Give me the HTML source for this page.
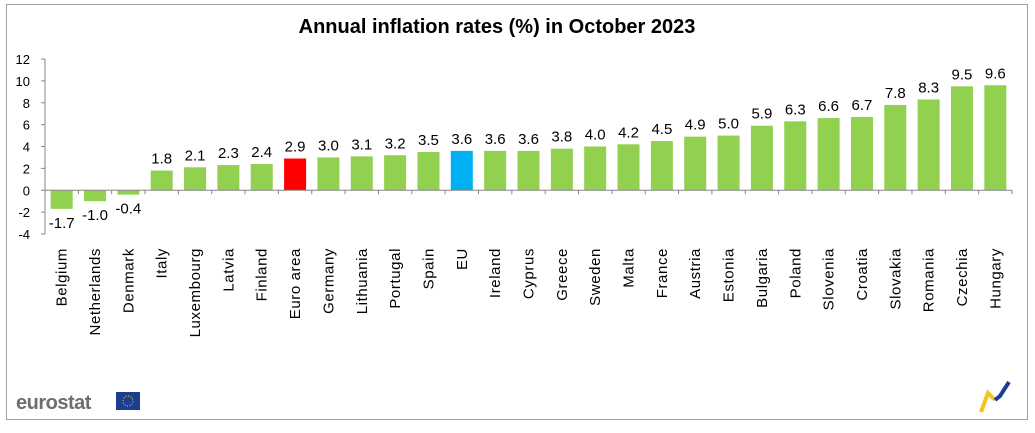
<!DOCTYPE html>
<html><head><meta charset="utf-8"><style>
body{margin:0;background:#fff;width:1035px;height:428px;overflow:hidden;font-family:"Liberation Sans",sans-serif}
</style></head><body>
<svg id="chart" width="1035" height="428">
<rect x="6.5" y="4.5" width="1021" height="415" fill="#fff" stroke="#a0a0a0"/>
<text x="497" y="33" text-anchor="middle" font-size="20" font-weight="bold" fill="#000">Annual inflation rates (%) in October 2023</text>
<g id="plot"></g>
<g>
<text x="16" y="409" font-size="20" fill="#6d6e71" font-weight="bold" letter-spacing="-0.5">eurostat</text>
<rect x="116" y="392" width="24" height="18" fill="#1c3f94"/>
<circle cx="128" cy="401" r="5" fill="none" stroke="#ffd400" stroke-width="1" stroke-dasharray="1 1.6"/>
</g>
<g>
<path d="M981 412 L988 393 L995 400" stroke="#f5c518" stroke-width="4" fill="none"/>
<path d="M995 400 L1000 396 L1009 382" stroke="#1c3f94" stroke-width="4" fill="none"/>
</g>
</svg>
<script>
const categories=["Belgium","Netherlands","Denmark","Italy","Luxembourg","Latvia","Finland","Euro area","Germany","Lithuania","Portugal","Spain","EU","Ireland","Cyprus","Greece","Sweden","Malta","France","Austria","Estonia","Bulgaria","Poland","Slovenia","Croatia","Slovakia","Romania","Czechia","Hungary"];
const values=[-1.7,-1.0,-0.4,1.8,2.1,2.3,2.4,2.9,3.0,3.1,3.2,3.5,3.6,3.6,3.6,3.8,4.0,4.2,4.5,4.9,5.0,5.9,6.3,6.6,6.7,7.8,8.3,9.5,9.6];
const yTicks=[12,10,8,6,4,2,0,-2,-4];
const NS="http://www.w3.org/2000/svg";
const g=document.getElementById('plot');
const x0=45,x1=1012,yTop=59,yBot=234,vMax=12,vMin=-4;
const y=v=>yTop+(vMax-v)*(yBot-yTop)/(vMax-vMin);
const step=(x1-x0)/categories.length;
const xc=i=>x0+step*(i+0.5);
function el(t,a){const e=document.createElementNS(NS,t);for(const k in a)e.setAttribute(k,a[k]);g.appendChild(e);return e;}
yTicks.forEach(t=>{
 const l=el('line',{x1:x0-4,x2:x0,y1:y(t),y2:y(t),stroke:'#868686'});
 
 
 const tx=el('text',{x:30,y:y(t)+5,'text-anchor':'end','font-size':13,fill:'#000'});
 tx.textContent=t;
 
 
});
const ax=el('line',{x1:x0,x2:x0,y1:yTop,y2:yBot,stroke:'#868686'});


categories.forEach((c,i)=>{
 const v=values[i];
 const col=c==="Euro area"?"#ff0000":c==="EU"?"#00b0f0":"#92d050";
 const bw=22;
 const r=el('rect',{x:xc(i)-bw/2,y:Math.min(y(v),y(0)),width:bw,height:Math.abs(y(v)-y(0)),fill:col});
 
 
 const lbl=el('text',{x:xc(i),y:v>=0?y(v)-7:y(v)+19,'text-anchor':'middle','font-size':15,fill:'#000'});
 lbl.textContent=v.toFixed(1);
 
 
 const cl=el('text',{transform:`translate(${xc(i)+5},248) rotate(-90)`,'text-anchor':'end','font-size':15,fill:'#000','letter-spacing':'0.6'});
 cl.textContent=c;
 
 
 const tk=el('line',{x1:x0+step*(i+1),x2:x0+step*(i+1),y1:y(0),y2:y(0)+4,stroke:'#868686'});
 
 
});
const xa=el('line',{x1:x0,x2:x1,y1:y(0),y2:y(0),stroke:'#868686'});


</script>
</body></html>
